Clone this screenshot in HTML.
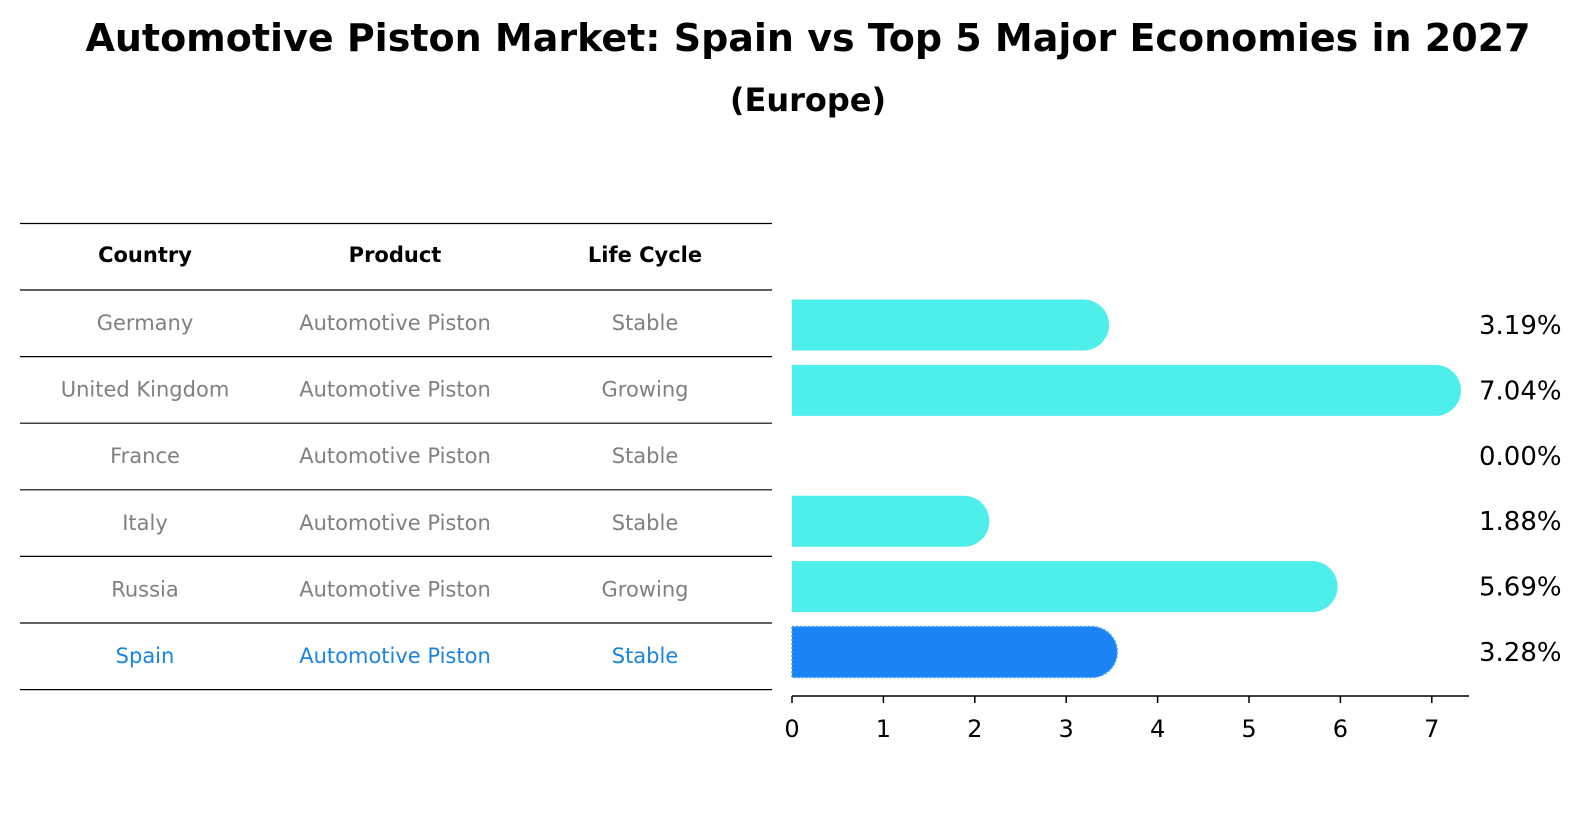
<!DOCTYPE html>
<html><head><meta charset="utf-8"><style>
body{margin:0;background:#fff;}
svg{display:block;font-family:"DejaVu Sans","Liberation Sans",sans-serif;}
</style></head><body>
<svg id="c" width="1586" height="823" xmlns="http://www.w3.org/2000/svg">
<text x="808" y="51" text-anchor="middle" font-size="38" font-weight="bold">Automotive Piston Market: Spain vs Top 5 Major Economies in 2027</text>
<text x="808" y="111" text-anchor="middle" font-size="32" font-weight="bold">(Europe)</text>
<g id="tbl"></g>
<g id="bars"></g>
</svg>
<script>
const countries=["Germany","United Kingdom","France","Italy","Russia","Spain"];
const products=["Automotive Piston","Automotive Piston","Automotive Piston","Automotive Piston","Automotive Piston","Automotive Piston"];
const lifecycles=["Stable","Growing","Stable","Stable","Growing","Stable"];
const values=[3.19,7.04,0.00,1.88,5.69,3.28];
const ticks=[0,1,2,3,4,5,6,7];
const NS="http://www.w3.org/2000/svg";
function mk(t,a,p,txt){const e=document.createElementNS(NS,t);for(const k in a)e.setAttribute(k,a[k]);if(txt!==undefined)e.textContent=txt;p.appendChild(e);return e;}
const tbl=document.getElementById('tbl'),bars=document.getElementById('bars');
const rowY=i=>290+i*66.6, x0=792, sx=v=>x0+v*91.4;
const colX=[145,395,645];
for(let i=0;i<8;i++){const y=i==0?223.5:rowY(i-1);
 const l=mk('line',{x1:20,x2:772,y1:y,y2:y,stroke:'#000','stroke-width':1.2},tbl);
 
 }
["Country","Product","Life Cycle"].forEach((h,j)=>{
 const t=mk('text',{x:colX[j],y:262,'text-anchor':'middle','font-size':21,'font-weight':'bold'},tbl,h);
 
 });
countries.forEach((c,i)=>{
 const cy=rowY(i)+40, col=c==="Spain"?'#1a84e0':'#808080';
 [c,products[i],lifecycles[i]].forEach((v,j)=>{
  const t=mk('text',{x:colX[j],y:cy,'text-anchor':'middle','font-size':21,fill:col},tbl,v);
  
  });
});
values.forEach((v,i)=>{
 const cy=325+i*65.4, h=51, r=h/2, xe=sx(v);
 if(v>0){
  const spain=countries[i]==="Spain";
  const d=`M${x0},${cy-r} L${xe},${cy-r} A${r},${r} 0 0 1 ${xe},${cy+r} L${x0},${cy+r} Z`;
  const p=mk('path',{d,fill:spain?'#1a84f5':'#4eeeea',stroke:spain?'#4aa0f0':'none','stroke-width':1.5,'stroke-dasharray':spain?'2,2':''},bars);
  
  
 }
 const t=mk('text',{x:1479,y:cy+9,'font-size':26},bars,v.toFixed(2)+'%');
 
 
});
const ax=mk('line',{x1:x0,x2:1469,y1:696,y2:696,stroke:'#000','stroke-width':1.5},bars);


ticks.forEach(t=>{
 const l=mk('line',{x1:sx(t),x2:sx(t),y1:696,y2:703,stroke:'#000','stroke-width':1.5},bars);
 
 
 const tx=mk('text',{x:sx(t),y:737,'text-anchor':'middle','font-size':24},bars,String(t));
 
 
});
</script>
</body></html>
